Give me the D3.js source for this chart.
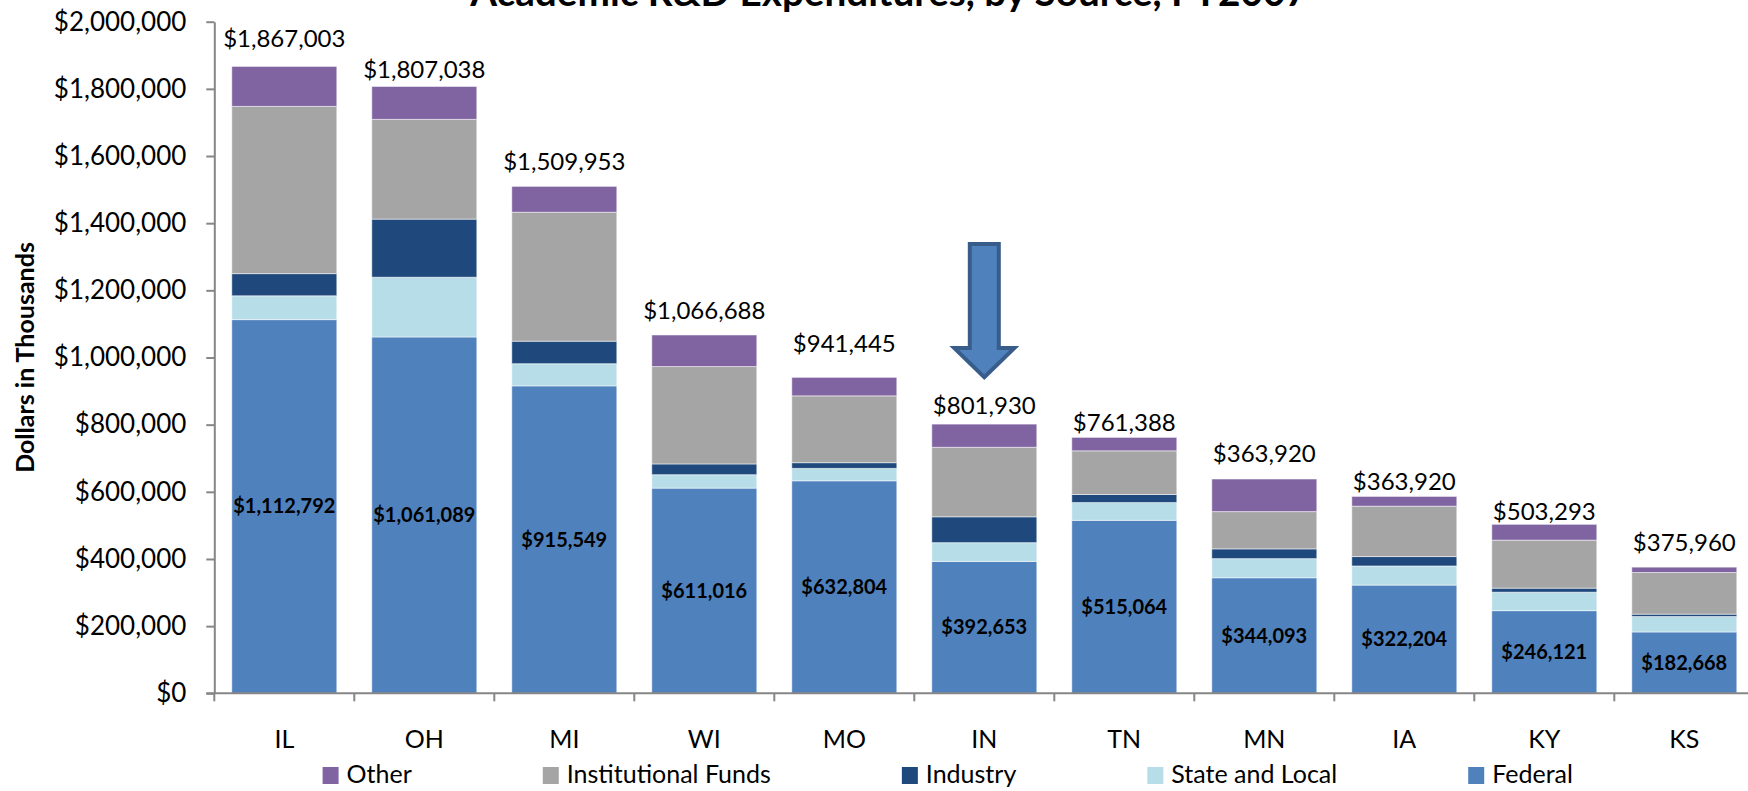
<!DOCTYPE html>
<html>
<head>
<meta charset="utf-8">
<script src="https://cdn.jsdelivr.net/npm/d3@7"></script>
<style>
  body { margin: 0; background: #fff; }
  svg { display: block; font-family: Lato, 'Noto Sans', sans-serif; }
  .y-axis path, .y-axis line { stroke: #868686; stroke-width: 2; }
</style>
</head>
<body>
<svg class="rd-chart"></svg>
<script>
'use strict';

//Data
var states = ['IL', 'OH', 'MI', 'WI', 'MO', 'IN', 'TN', 'MN', 'IA', 'KY', 'KS'];
var federal = [1112792, 1061089, 915549, 611016, 632804, 392653, 515064, 344093, 322204, 246121, 182668];
var stateLocal = [71000, 178000, 66000, 40000, 37000, 56000, 53000, 57000, 57000, 55000, 46000];
var industry = [66000, 173000, 67000, 32000, 17000, 77000, 24000, 29000, 28000, 12000, 7000];
var institutional = [498000, 297000, 384000, 290000, 199000, 207000, 130000, 111000, 150000, 143000, 124000];
var other = [119000, 98000, 77000, 94000, 55000, 69000, 40000, 97000, 29000, 47000, 16000];
var totals = [1867003, 1807038, 1509953, 1066688, 941445, 801930, 761388, 363920, 363920, 503293, 375960];
var yTicks = [0, 200000, 400000, 600000, 800000, 1000000, 1200000, 1400000, 1600000, 1800000, 2000000];

var seriesKeys = ['federal', 'stateLocal', 'industry', 'institutional', 'other'];
var seriesNames = { federal: 'Federal', stateLocal: 'State and Local', industry: 'Industry', institutional: 'Institutional Funds', other: 'Other' };
var colors = { federal: '#4F81BD', stateLocal: '#B7DEE8', industry: '#1F497D', institutional: '#A5A5A5', other: '#8064A2' };
var legendOrder = ['other', 'institutional', 'industry', 'stateLocal', 'federal'];

//the total labels were nudged by hand in the original, lift above bar top in px
var totalLabelLift = [28, 16.5, 25, 24, 34, 18.5, 14.5, 25, 15, 12.5, 25];

var width = 1748, height = 791;
var plot = { left: 214.3, right: 1754.3, top: 21.7, bottom: 693.3 };

var rows = states.map(function (s, i) {
  return { state: s, federal: federal[i], stateLocal: stateLocal[i], industry: industry[i], institutional: institutional[i], other: other[i] };
});
var stacked = d3.stack().keys(seriesKeys)(rows);

//Scales
var xScale = d3.scaleBand().domain(states).range([plot.left, plot.right]).paddingInner(0.25).paddingOuter(0.125);
var yScale = d3.scaleLinear().domain([0, 2000000]).range([plot.bottom, plot.top]);

var svg = d3.select('svg.rd-chart').attr('width', width).attr('height', height);

//Title (mostly cut off at the top edge in the original)
var title = svg.append('text').attr('x', 889).attr('y', 6).attr('text-anchor', 'middle')
  .style('font-weight', 'bold').style('font-size', '36px').text('Academic R&D Expenditures, by Source, FY2007');
title.style('font-size', (36 * 838 / title.node().getComputedTextLength()) + 'px');

//Bars
svg.append('g').selectAll('g').data(stacked).enter().append('g')
  .attr('fill', function (d) { return colors[d.key]; })
  .selectAll('rect').data(function (d) { return d; }).enter().append('rect')
  .attr('x', function (d) { return xScale(d.data.state); })
  .attr('y', function (d) { return yScale(d[1]); })
  .attr('width', xScale.bandwidth())
  .attr('height', function (d) { return yScale(d[0]) - yScale(d[1]); })
  .attr('stroke', '#fff').attr('stroke-width', 1).attr('stroke-opacity', 0.5);

//Federal labels
svg.append('g').selectAll('text').data(stacked[0]).enter().append('text')
  .attr('x', function (d) { return xScale(d.data.state) + xScale.bandwidth() / 2; })
  .attr('y', function (d) { return (yScale(d[0]) + yScale(d[1])) / 2; })
  .attr('dy', '0.35em').attr('text-anchor', 'middle')
  .style('font-weight', 'bold').style('font-size', '20px').attr('fill', '#000')
  .text(function (d) { return d3.format('$,')(d.data.federal); });

//Total labels
var topLayer = stacked[stacked.length - 1];
svg.append('g').selectAll('text').data(topLayer).enter().append('text')
  .attr('x', function (d) { return xScale(d.data.state) + xScale.bandwidth() / 2; })
  .attr('y', function (d, i) { return yScale(d[1]) - totalLabelLift[i]; })
  .attr('dy', '0.35em').attr('text-anchor', 'middle')
  .style('font-size', '24px').attr('fill', '#000')
  .text(function (d, i) { return d3.format('$,')(totals[i]); });

//Y axis
var yAxis = svg.append('g').classed('y-axis', true).attr('transform', 'translate(' + plot.left + ',0)')
  .call(d3.axisLeft(yScale).tickValues(yTicks).tickSize(8).tickSizeOuter(0).tickPadding(20).tickFormat(d3.format('$,')));
yAxis.selectAll('text').style('font-size', '26px').style('font-family', 'Lato').attr('fill', '#000');

//X axis line and ticks at band edges
var step = xScale.step();
var edges = d3.range(states.length + 1).map(function (i) { return plot.left + i * step; });
var xAxis = svg.append('g').classed('x-axis', true);
xAxis.append('line').attr('x1', plot.left - 8).attr('x2', plot.right).attr('y1', plot.bottom).attr('y2', plot.bottom)
  .attr('stroke', '#868686').attr('stroke-width', 2);
xAxis.selectAll('line.tick').data(edges).enter().append('line').classed('tick', true)
  .attr('x1', function (d) { return d; }).attr('x2', function (d) { return d; })
  .attr('y1', plot.bottom).attr('y2', plot.bottom + 8)
  .attr('stroke', '#868686').attr('stroke-width', 2);
xAxis.selectAll('text').data(states).enter().append('text')
  .attr('x', function (d) { return xScale(d) + xScale.bandwidth() / 2; })
  .attr('y', 748).attr('text-anchor', 'middle').style('font-size', '25px').attr('fill', '#000')
  .text(function (d) { return d; });

//Y axis label
svg.append('text').attr('transform', 'rotate(-90)')
  .attr('x', -(plot.top + plot.bottom) / 2).attr('y', 25).attr('dy', '0.35em')
  .attr('text-anchor', 'middle').style('font-weight', 'bold').style('font-size', '25px')
  .text('Dollars in Thousands');

//Legend
var legend = svg.append('g').classed('legend', true);
var lx = 322.6;
legendOrder.forEach(function (k) {
  legend.append('rect').attr('x', lx).attr('y', 767).attr('width', 16).attr('height', 17).attr('fill', colors[k]);
  var t = legend.append('text').attr('x', lx + 24).attr('y', 783).style('font-size', '25px').attr('fill', '#000').text(seriesNames[k]);
  lx = lx + 24 + t.node().getComputedTextLength() + 131;
});

//Arrow pointing at IN
var inIdx = states.indexOf('IN');
var ax = xScale('IN') + xScale.bandwidth() / 2;
var tipY = yScale(topLayer[inIdx][1]) - 47;
var arrow = [[-14.5, -133], [14.5, -133], [14.5, -29], [30, -29], [0, 0], [-30, -29], [-14.5, -29]];
svg.append('path')
  .attr('d', d3.line()(arrow.map(function (p) { return [ax + p[0], tipY + p[1]]; })) + 'Z')
  .attr('fill', '#4F81BD').attr('stroke', '#385D8A').attr('stroke-width', 4).attr('stroke-linejoin', 'miter');
</script>
</body>
</html>
